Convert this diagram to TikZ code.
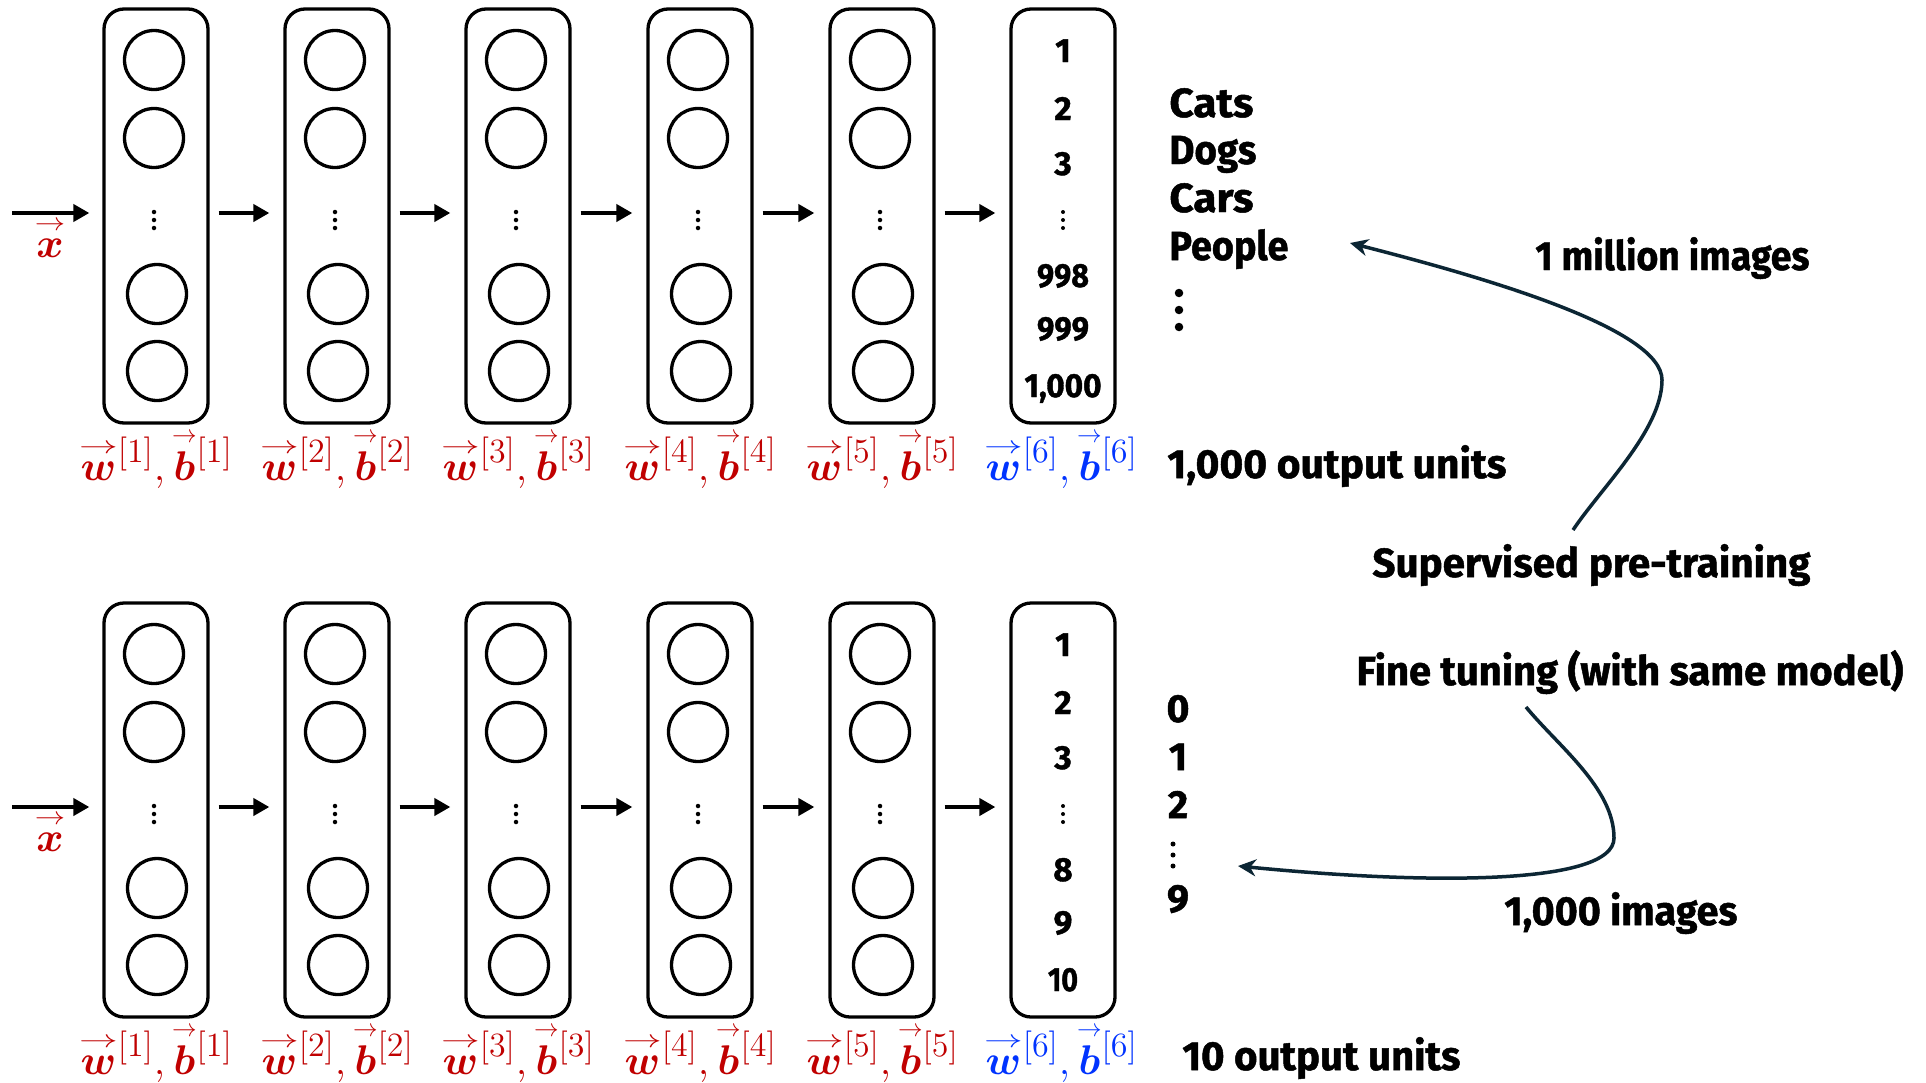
\documentclass[tikz,border=0pt]{standalone}
\usepackage{fontspec}
\usepackage{amsmath,bm}
\usepackage{graphicx}
\usetikzlibrary{arrows.meta}
\newfontfamily\hfont{Fira Sans}[FakeBold=1.2]
\definecolor{wred}{RGB}{192,0,0}
\definecolor{wblue}{RGB}{0,51,255}
\definecolor{navy}{RGB}{12,38,52}
\newlength\pxu
\setlength\pxu{0.5pt}
% stretch a text horizontally to a given width (in px units), keep its height
\newcommand\fitw[2]{\resizebox{#1\pxu}{\height}{#2}}
% bold vector with an arrow as wide as the letter; exponents sit as on a plain b
\newsavebox\lettbox
\newcommand\ovec[1]{\sbox\lettbox{$\bm{#1}$}%
  \mathord{\smash{\overset{\resizebox{\dimexpr\wd\lettbox+1.5pt\relax}{0.6\height}{$\rightarrow$}}{\usebox\lettbox}}\vphantom{\bm b}}}
\newcommand\lidx[1]{{\scalebox{1.18}{$\scriptstyle[#1]$}}}
% weight and bias label of one layer
\newcommand\wblab[2]{\textcolor{#2}{$\ovec{w}^{\lidx{#1}},\ovec{b}^{\lidx{#1}}$}}

\begin{document}
\begin{tikzpicture}[x=0.5pt,y=-0.5pt,
  layer/.style={draw,line width=1.65pt,rounded corners=10pt,minimum width=52pt,minimum height=207pt,inner sep=0pt},
  unit/.style={circle,draw,line width=1.65pt,minimum size=29.5pt,inner sep=0pt},
  arr/.style={line width=2pt,-{Triangle[length=8pt,width=8.5pt]}},
  curvearr/.style={line width=1.75pt,draw=navy,-{Stealth[length=9pt,width=8.5pt]}},
  txt/.style={anchor=base west,inner sep=0pt,font=\hfont\bfseries\fontsize{20.3}{24}\selectfont},
  num/.style={anchor=base,inner sep=0pt,font=\hfont\bfseries\fontsize{16.7}{20}\selectfont},
  dig/.style={anchor=base,inner sep=0pt,font=\hfont\bfseries\fontsize{19.6}{24}\selectfont},
  lab/.style={anchor=base,inner sep=0pt,font=\fontsize{21.5}{24}\selectfont},
  dot/.style={circle,fill,inner sep=0pt,minimum size=#1}]

\useasboundingbox (0,0) rectangle (1926,1082);
\fill[white] (0,0) rectangle (1926,1082);

% two identical networks, the second one shifted down
\foreach \r/\dy in {t/0,b/594}{
  \foreach \i/\cx in {1/156,2/337,3/518,4/700,5/882}{
    \node[layer] (\r\i) at (\cx,216+\dy) {};
    \node[unit] (\r\i a) at (\cx-2,60+\dy) {};
    \node[unit] (\r\i b) at (\cx-2,138+\dy) {};
    \node[unit] (\r\i c) at (\cx+1,294+\dy) {};
    \node[unit] (\r\i d) at (\cx+1,371+\dy) {};
    \node[dot=4.5\pxu] (\r\i v1) at (\cx-2,212+\dy) {};
    \node[dot=4.5\pxu] (\r\i v2) at (\cx-2,220+\dy) {};
    \node[dot=4.5\pxu] (\r\i v3) at (\cx-2,228+\dy) {};
    \node[lab] (\r l\i) at (\cx,480+\dy) {\wblab{\i}{wred}};
  }
  \node[layer] (\r6) at (1063,216+\dy) {};
  \node[lab] (\r l6) at (1061,480+\dy) {\wblab{6}{wblue}};
  \node[dot=4\pxu] (\r6v1) at (1063,212+\dy) {};
  \node[dot=4\pxu] (\r6v2) at (1063,220+\dy) {};
  \node[dot=4\pxu] (\r6v3) at (1063,228+\dy) {};

  % input
  \coordinate (\r in) at (12,213+\dy);
  \node[lab,anchor=base,text=wred] (\r x) at (50,257+\dy) {$\ovec{x}$};
  \draw[arr,shorten >=6.5pt] (\r in) -- ([yshift=1.5pt]\r1.west);
  \foreach \a/\b in {1/2,2/3,3/4,4/5,5/6}{
    \draw[arr,shorten <=4.5pt,shorten >=7pt] ([yshift=1.5pt]\r\a.east) -- ([yshift=1.5pt]\r\b.west);
  }
}

% output units of the pre-trained network
\node[num] (o1) at (1063,62) {1};
\node[num] (o2) at (1063,120) {2};
\node[num] (o3) at (1063,175) {3};
\node[num] (o998) at (1063,287) {\fitw{52}{998}};
\node[num] (o999) at (1063,340) {\fitw{52}{999}};
\node[num] (o1000) at (1063,397) {\fitw{77}{1,000}};

% output units of the fine-tuned network
\node[num] (f1) at (1063,656) {1};
\node[num] (f2) at (1063,714) {2};
\node[num] (f3) at (1063,769) {3};
\node[num] (f8) at (1063,881) {8};
\node[num] (f9) at (1063,934) {9};
\node[num] (f10) at (1063,991) {\fitw{30}{10}};

% classes
\node[txt] (cats) at (1169,117) {\fitw{84}{Cats}};
\node[txt] (dogs) at (1169,164) {\fitw{87}{Dogs}};
\node[txt] (cars) at (1169,212) {\fitw{84}{Cars}};
\node[txt] (people) at (1169,260) {\fitw{119}{People}};
\node[dot=8.5\pxu] (cd1) at (1179,293) {};
\node[dot=8.5\pxu] (cd2) at (1179,310) {};
\node[dot=8.5\pxu] (cd3) at (1179,327) {};

\node[dig] (d0) at (1178,722) {0};
\node[dig] (d1) at (1178,770) {1};
\node[dig] (d2) at (1178,818) {2};
\node[dot=5\pxu] (dd1) at (1173,844) {};
\node[dot=5\pxu] (dd2) at (1173,855) {};
\node[dot=5\pxu] (dd3) at (1173,866) {};
\node[dig] (d9) at (1178,912) {9};

% annotations
\node[txt] (mil) at (1535,270) {\fitw{274}{1 million images}};
\node[txt] (out1) at (1167,478) {\fitw{339}{1,000 output units}};
\node[txt] (sup) at (1372,577) {\fitw{438}{Supervised pre-training}};
\node[txt] (fine) at (1356,685) {\fitw{547}{Fine tuning (with same model)}};
\node[txt] (thou) at (1504,925) {\fitw{233}{1,000 images}};
\node[txt] (out2) at (1182,1070) {\fitw{278}{10 output units}};

% curved arrows
\coordinate (ps) at (1573,530);
\coordinate (pt) at (1350,243);
\draw[curvearr] (ps) .. controls (1601,488) and (1662,430) .. (1662,380)
  .. controls (1662,330) and (1495,280) .. (pt);
\coordinate (fs) at (1526,707);
\coordinate (ft) at (1238,866);
\draw[curvearr] (fs) .. controls (1558,746) and (1614,788) .. (1614,838)
  .. controls (1614,885) and (1430,885) .. (ft);
\end{tikzpicture}
\end{document}
